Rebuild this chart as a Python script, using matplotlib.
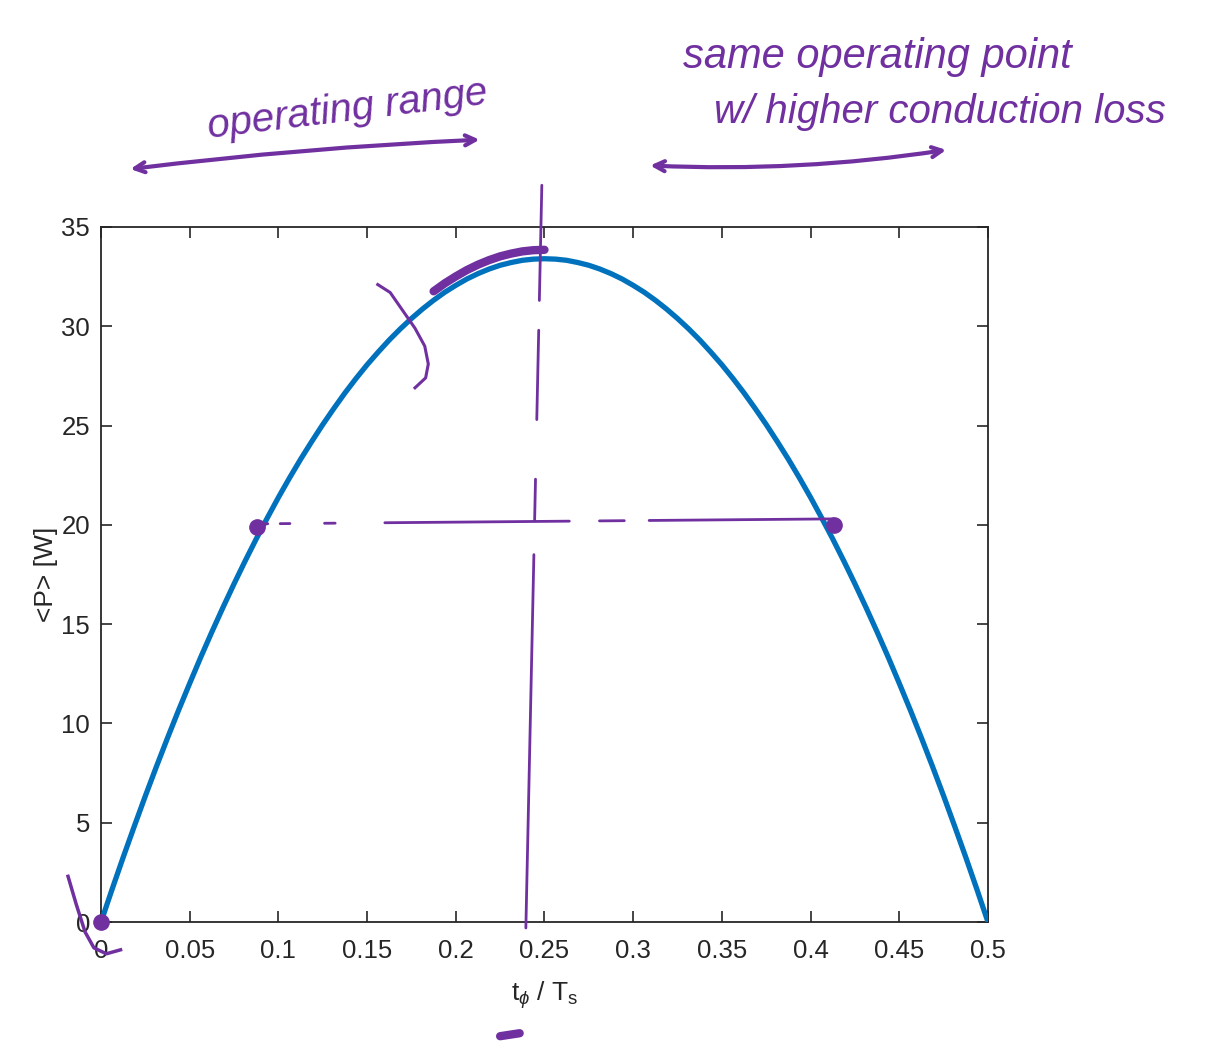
import numpy as np
import matplotlib
matplotlib.use('Agg')
import matplotlib.pyplot as plt

plt.rcParams['font.family'] = ['Liberation Sans', 'DejaVu Sans']
plt.rcParams['mathtext.fontset'] = 'custom'
plt.rcParams['mathtext.rm'] = 'Liberation Sans'
plt.rcParams['mathtext.it'] = 'Liberation Sans:italic'

# curve: phase shift fraction vs mean power
t_frac = [0.0, 0.00625, 0.0125, 0.01875, 0.025, 0.03125, 0.0375, 0.04375, 0.05, 0.05625,
          0.0625, 0.06875, 0.075, 0.08125, 0.0875, 0.09375, 0.1, 0.10625, 0.1125, 0.11875,
          0.125, 0.13125, 0.1375, 0.14375, 0.15, 0.15625, 0.1625, 0.16875, 0.175, 0.18125,
          0.1875, 0.19375, 0.2, 0.20625, 0.2125, 0.21875, 0.225, 0.23125, 0.2375, 0.24375,
          0.25, 0.25625, 0.2625, 0.26875, 0.275, 0.28125, 0.2875, 0.29375, 0.3, 0.30625,
          0.3125, 0.31875, 0.325, 0.33125, 0.3375, 0.34375, 0.35, 0.35625, 0.3625, 0.36875,
          0.375, 0.38125, 0.3875, 0.39375, 0.4, 0.40625, 0.4125, 0.41875, 0.425, 0.43125,
          0.4375, 0.44375, 0.45, 0.45625, 0.4625, 0.46875, 0.475, 0.48125, 0.4875, 0.49375, 0.5]
p_mean = [0.0, 1.65, 3.26, 4.82, 6.35, 7.83, 9.27, 10.67, 12.02, 13.34,
          14.61, 15.84, 17.03, 18.18, 19.29, 20.35, 21.38, 22.36, 23.30, 24.19,
          25.05, 25.86, 26.64, 27.37, 28.06, 28.70, 29.31, 29.87, 30.39, 30.87,
          31.31, 31.71, 32.06, 32.38, 32.65, 32.88, 33.07, 33.21, 33.32, 33.38,
          33.40, 33.38, 33.32, 33.21, 33.07, 32.88, 32.65, 32.38, 32.06, 31.71,
          31.31, 30.87, 30.39, 29.87, 29.31, 28.70, 28.06, 27.37, 26.64, 25.86,
          25.05, 24.19, 23.30, 22.36, 21.38, 20.35, 19.29, 18.18, 17.03, 15.84,
          14.61, 13.34, 12.02, 10.67, 9.27, 7.83, 6.35, 4.82, 3.26, 1.65, 0.0]

x_ticks = [0, 0.05, 0.1, 0.15, 0.2, 0.25, 0.3, 0.35, 0.4, 0.45, 0.5]
x_labels = ['0', '0.05', '0.1', '0.15', '0.2', '0.25', '0.3', '0.35', '0.4', '0.45', '0.5']
y_ticks = [0, 5, 10, 15, 20, 25, 30, 35]

# hand-drawn annotations (data units)
dots_x = [0.0, 0.088, 0.413]
dots_y = [0.0, 19.9, 20.0]
level_segs = [(0.088, 0.094), (0.101, 0.1065), (0.126, 0.132), (0.160, 0.264),
              (0.281, 0.295), (0.309, 0.413)]
level_y0, level_y1 = 20.05, 20.3
split_segs = [(37.1, 31.3), (29.8, 25.3), (22.3, 20.2), (18.5, -0.3)]
split_x0, split_x1 = 0.2485, 0.2395
range_left = ((0.015, 37.9), (0.215, 39.4))
range_right = ((0.308, 38.1), (0.478, 38.9))
hook_x = [0.156, 0.163, 0.170, 0.177, 0.1825, 0.1845, 0.183, 0.177]
hook_y = [32.1, 31.7, 30.8, 29.9, 29.0, 28.1, 27.4, 26.9]
corner_x = [-0.0186, -0.014, -0.009, -0.004, 0.003, 0.011]
corner_y = [2.3, 0.9, -0.5, -1.3, -1.6, -1.4]
blob_x = [0.225, 0.236]
blob_y = [-5.75, -5.6]

blue = '#0072BD'
ink = '#7030A0'

fig = plt.figure(figsize=(12.2, 10.43), dpi=100)
ax = fig.add_axes([0.0828, 0.1160, 0.727, 0.6664])

ax.plot(t_frac, p_mean, color=blue, lw=3.8, solid_capstyle='butt', zorder=3)

# thick ink over the peak region
t_arr = np.array(t_frac)
p_arr = np.array(p_mean)
sel = (t_arr >= 0.1875) & (t_arr <= 0.25)
ax.plot(t_arr[sel], p_arr[sel] + 0.45, color=ink, lw=6, solid_capstyle='round', zorder=4)

for a, b in level_segs:
    ya = level_y0 + (level_y1 - level_y0) * (a - 0.088) / 0.325
    yb = level_y0 + (level_y1 - level_y0) * (b - 0.088) / 0.325
    ax.plot([a, b], [ya, yb], color=ink, lw=2, solid_capstyle='round', zorder=4)

for a, b in split_segs:
    xa = split_x0 + (split_x1 - split_x0) * (37.1 - a) / 37.4
    xb = split_x0 + (split_x1 - split_x0) * (37.1 - b) / 37.4
    ax.plot([xa, xb], [a, b], color=ink, lw=2, solid_capstyle='round', zorder=4, clip_on=False)

ax.plot(hook_x, hook_y, color=ink, lw=2.2, zorder=4)
ax.plot(corner_x, corner_y, color=ink, lw=2.5, zorder=4, clip_on=False)
ax.plot(blob_x, blob_y, color=ink, lw=6, solid_capstyle='round', clip_on=False)
ax.plot(dots_x, dots_y, 'o', color=ink, ms=11, zorder=5, clip_on=False)

ax.annotate('', xy=range_left[0], xytext=range_left[1], xycoords='data', annotation_clip=False,
            arrowprops=dict(arrowstyle='<->', color=ink, lw=3, mutation_scale=18,
                            connectionstyle='arc3,rad=0.02'))
ax.annotate('', xy=range_right[0], xytext=range_right[1], xycoords='data', annotation_clip=False,
            arrowprops=dict(arrowstyle='<->', color=ink, lw=3, mutation_scale=18,
                            connectionstyle='arc3,rad=-0.05'))

ax.set_xlim(0, 0.5)
ax.set_ylim(0, 35)
ax.set_xticks(x_ticks)
ax.set_xticklabels(x_labels)
ax.set_yticks(y_ticks)
ax.tick_params(direction='in', length=8, width=1.2, labelsize=18.5, colors='#262626',
               top=True, right=True)
ax.tick_params(axis='x', pad=12)
ax.tick_params(axis='y', pad=8)
for s in ax.spines.values():
    s.set_linewidth(1.3)
    s.set_color('#262626')

ax.set_xlabel(r'$\mathrm{t}_{\phi}$ / T$_\mathrm{s}$', fontsize=19, color='#262626', labelpad=12)
ax.set_ylabel('<P> [W]', fontsize=19, color='#262626', labelpad=2)

fig.text(0.168, 0.868, 'operating range', color=ink, fontsize=29, style='italic', rotation=7)
fig.text(0.56, 0.935, 'same operating point', color=ink, fontsize=30, style='italic')
fig.text(0.585, 0.882, 'w/ higher conduction loss', color=ink, fontsize=29, style='italic')

fig.savefig('out.png', dpi=100)
